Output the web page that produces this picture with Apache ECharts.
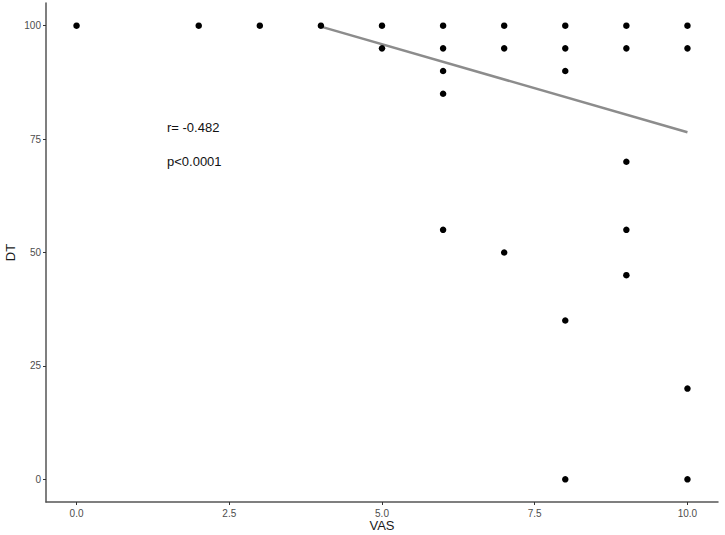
<!DOCTYPE html>
<html>
<head>
<meta charset="utf-8">
<script src="https://cdn.jsdelivr.net/npm/echarts@6/dist/echarts.min.js"></script>
<style>
  html, body { margin: 0; padding: 0; background: #fff; }
  #chart { width: 725px; height: 535px; }
</style>
</head>
<body>
<div id="chart"></div>
<script>
// VAS vs DT scatter with fitted line
const vas = [0, 2, 3, 4, 5, 5, 6, 6, 6, 6, 6, 7, 7, 7, 8, 8, 8, 8, 8, 9, 9, 9, 9, 9, 10, 10, 10, 10];
const dt = [100, 100, 100, 100, 100, 95, 100, 95, 90, 85, 55, 100, 95, 50, 100, 95, 90, 35, 0, 100, 95, 70, 55, 45, 100, 95, 20, 0];
// fitted line endpoints
const fitX = [4, 10];
const fitY = [99.8, 76.5];
const xTicks = [0, 2.5, 5, 7.5, 10];
const yTicks = [0, 25, 50, 75, 100];
const stats = ['r= -0.482', 'p<0.0001'];

const AXIS = '#4d4d4d';
const FONT = 'Liberation Sans, Arial, sans-serif';

const chart = echarts.init(document.getElementById('chart'), null, { renderer: 'svg' });
chart.setOption({
  backgroundColor: '#ffffff',
  animation: false,
  grid: { left: 46, right: 7, top: 3, bottom: 33, containLabel: false, outerBoundsMode: 'none' },
  xAxis: {
    type: 'value', min: -0.5, max: 10.5,
    name: 'VAS', nameLocation: 'middle', nameGap: 17, nameMoveOverlap: false,
    nameTextStyle: { color: '#1a1a1a', fontSize: 13, fontFamily: FONT },
    splitLine: { show: false },
    axisLine: { onZero: false, lineStyle: { color: '#555', width: 1.5 } },
    axisTick: { show: true, length: 3, customValues: xTicks, lineStyle: { color: '#333' } },
    axisLabel: { customValues: xTicks, formatter: (v) => v.toFixed(1), color: AXIS, fontSize: 10, fontFamily: FONT, margin: 6 },
  },
  yAxis: {
    type: 'value', min: -5, max: 105,
    name: 'DT', nameLocation: 'middle', nameGap: 29, nameRotate: 90, nameMoveOverlap: false,
    nameTextStyle: { color: '#1a1a1a', fontSize: 13, fontFamily: FONT },
    splitLine: { show: false },
    axisLine: { show: true, onZero: false, lineStyle: { color: '#555', width: 1.5 } },
    axisTick: { show: true, length: 3, customValues: yTicks, lineStyle: { color: '#333' } },
    axisLabel: { customValues: yTicks, color: AXIS, fontSize: 10, fontFamily: FONT, margin: 5 },
  },
  graphic: stats.map((t, i) => ({
    type: 'text', left: 167, top: 121 + i * 34,
    style: { text: t, fill: '#111', fontSize: 13, fontFamily: FONT },
  })),
  series: [
    {
      type: 'line', data: fitX.map((x, i) => [x, fitY[i]]),
      symbol: 'none', lineStyle: { color: '#8c8c8c', width: 2.5 }, z: 1,
    },
    {
      type: 'scatter', data: vas.map((x, i) => [x, dt[i]]),
      symbolSize: 6.5, itemStyle: { color: '#000', opacity: 1 }, z: 2,
    },
  ],
});
</script>
</body>
</html>
